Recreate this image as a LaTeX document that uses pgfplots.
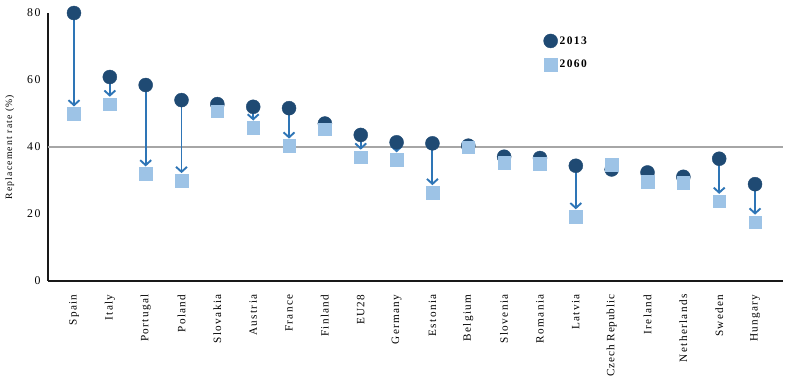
\documentclass[border=0pt]{standalone}
\usepackage{pgfplots}
\pgfplotsset{compat=1.18}
\usepackage{pgfplotstable}
\usepackage{fontspec}
\setmainfont{Liberation Serif}[LetterSpace=12]
\newfontfamily\tightserif{Liberation Serif}[LetterSpace=8]
\usetikzlibrary{arrows.meta}

\definecolor{navy}{HTML}{1F4A73}
\definecolor{lightblue}{HTML}{9DC3E6}
\definecolor{arrowblue}{HTML}{2E75B6}
\definecolor{refgray}{HTML}{A6A6A6}

% Replacement rates (%) by country, 2013 and projected 2060;
% arrow = 1 marks the countries drawn with a drop arrow
\pgfplotstableread{
x  y13   y60   arrow
0  80.0  49.9  1
1  60.9  52.8  1
2  58.5  32.0  1
3  54.0  30.0  1
4  52.8  50.7  0
5  52.0  45.7  1
6  51.6  40.3  1
7  47.0  45.3  0
8  43.6  37.0  1
9  41.4  36.2  1
10 41.1  26.4  1
11 40.4  40.0  0
12 37.1  35.3  0
13 36.7  35.0  0
14 34.4  19.2  1
15 33.3  34.8  0
16 32.4  29.7  0
17 31.1  29.4  0
18 36.5  23.8  1
19 28.9  17.6  1
}\rates

\begin{document}
\begin{tikzpicture}
\useasboundingbox (-48pt,-99pt) rectangle (740pt,281pt);
\begin{axis}[
  at={(0,0)}, anchor=south west,
  scale only axis,
  width=735pt, height=268pt,
  xmin=-0.725, xmax=19.78,
  ymin=0, ymax=80,
  clip=false,
  axis x line=bottom, axis y line=left,
  axis line style={-, line width=1.8pt, black!90},
  major tick length=0pt,
  ytick={0,20,40,60,80},
  xtick={0,...,19},
  xticklabels={Spain,Italy,Portugal,Poland,Slovakia,Austria,France,Finland,EU28,Germany,Estonia,Belgium,Slovenia,Romania,Latvia,{\tightserif Czech Republic},Ireland,Netherlands,Sweden,Hungary},
  x tick label style={rotate=90, anchor=east, font=\fontsize{11.2}{13}\selectfont, xshift=-10pt},
  y tick label style={font=\fontsize{11.8}{13}\selectfont, xshift=-4pt},
  /pgf/number format/assume math mode=true,
  ylabel={Replacement rate (\%)},
  ylabel style={font=\fontsize{9.7}{11}\selectfont, at={(axis description cs:-0.052,0.5)}, anchor=center, rotate=0},
  legend style={draw=none, fill=none, at={(rel axis cs:0.67,0.93)}, anchor=north west,
    font=\fontsize{11.5}{13}\selectfont\bfseries, row sep=10pt, cells={anchor=west}},
  legend image code/.code={\draw[#1] plot coordinates {(0.3cm,0cm)};},
]
% reference line at 40 %
\addplot[refgray, line width=2.5pt, forget plot] coordinates {(-0.725,40) (19.78,40)};
% change from 2013 to 2060
\addplot[arrowblue, line width=1.9pt, -{Straight Barb[length=5pt,width=11pt,line width=1.9pt]},
  forget plot,
  restrict expr to domain={\thisrow{arrow}}{1:1},
  quiver={u=0, v={\thisrow{y60}-\thisrow{y13}+2.2}}]
  table[x=x, y=y13] {\rates};
\addplot[only marks, mark=*, mark size=7pt, mark options={fill=navy, draw=navy}]
  table[x=x, y=y13] {\rates};
\addlegendentry{2013}
\addplot[only marks, mark=square*, mark size=6.3pt, mark options={fill=lightblue, draw=lightblue}]
  table[x=x, y=y60] {\rates};
\addlegendentry{2060}
\end{axis}
\end{tikzpicture}
\end{document}
